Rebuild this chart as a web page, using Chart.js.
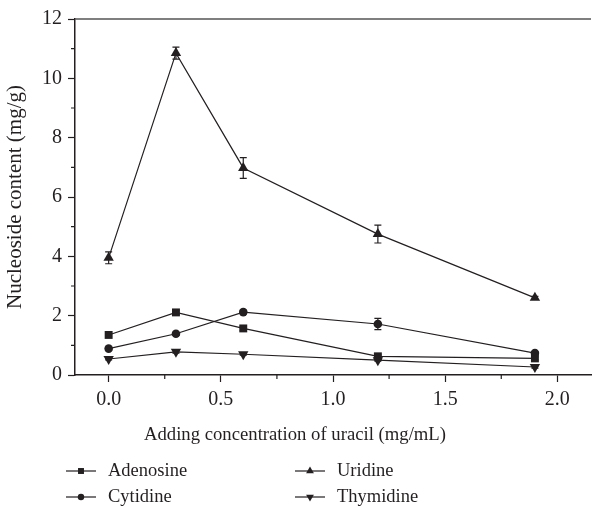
<!DOCTYPE html>
<html lang="en">
<head>
<meta charset="UTF-8">
<title>Nucleoside content vs. uracil</title>
<script src="https://cdn.jsdelivr.net/npm/chart.js"></script>
<style>
  html, body { margin: 0; padding: 0; background: #fff; }
  #wrap { width: 597px; height: 508px; }
</style>
</head>
<body>
<div id="wrap"><canvas id="chart"></canvas></div>
<script>
// data
const concentrations = [0, 0.3, 0.6, 1.2, 1.9];
const adenosine = [1.35, 2.11, 1.57, 0.63, 0.56];
const uridine = [3.95, 10.85, 6.98, 4.75, 2.60];
const cytidine = [0.89, 1.39, 2.12, 1.72, 0.74];
const thymidine = [0.54, 0.78, 0.70, 0.50, 0.27];
const adenosineErr = [0.06, 0.07, 0.07, 0.05, 0.05];
const uridineErr = [0.20, 0.20, 0.35, 0.30, 0.05];
const cytidineErr = [0.05, 0.05, 0.07, 0.19, 0.05];
const thymidineErr = [0.03, 0.04, 0.03, 0.03, 0.04];
const xTicks = [0, 0.5, 1.0, 1.5, 2.0];
const xMinor = [0.25, 0.75, 1.25, 1.75];
const yTicks = [0, 2, 4, 6, 8, 10, 12];
const yMinor = [1, 3, 5, 7, 9, 11];

const INK = '#231f20';
const FAMILY = '"Liberation Serif", "Times New Roman", serif';

const series = [
  { label: 'Adenosine', values: adenosine, errs: adenosineErr, style: 'rect', rot: 0, r: 5.6 },
  { label: 'Uridine', values: uridine, errs: uridineErr, style: 'triangle', rot: 0, r: 6 },
  { label: 'Cytidine', values: cytidine, errs: cytidineErr, style: 'circle', rot: 0, r: 4.3 },
  { label: 'Thymidine', values: thymidine, errs: thymidineErr, style: 'triangle', rot: 180, r: 6 }
];

// error bars, top frame line, minor ticks, x title and legend
const extras = {
  id: 'extras',
  beforeDatasetsDraw(chart) {
    const { ctx, scales: { x, y } } = chart;
    ctx.save();
    ctx.strokeStyle = INK;
    ctx.lineWidth = 1.2;
    series.forEach(s => {
      s.values.forEach((v, i) => {
        const px = x.getPixelForValue(concentrations[i]);
        const top = y.getPixelForValue(v + s.errs[i]);
        const bot = y.getPixelForValue(v - s.errs[i]);
        ctx.beginPath();
        ctx.moveTo(px, top); ctx.lineTo(px, bot);
        ctx.moveTo(px - 3.5, top); ctx.lineTo(px + 3.5, top);
        ctx.moveTo(px - 3.5, bot); ctx.lineTo(px + 3.5, bot);
        ctx.stroke();
      });
    });
    ctx.restore();
  },
  afterDraw(chart) {
    const { ctx, chartArea: a, scales: { x, y } } = chart;
    ctx.save();
    ctx.strokeStyle = '#555';
    ctx.lineWidth = 1.5;
    ctx.beginPath();
    ctx.moveTo(a.left, a.top); ctx.lineTo(a.right, a.top);
    ctx.stroke();

    ctx.strokeStyle = INK;
    ctx.lineWidth = 1.2;
    ctx.beginPath();
    yMinor.forEach(v => {
      const py = y.getPixelForValue(v);
      ctx.moveTo(a.left - 4, py); ctx.lineTo(a.left, py);
    });
    xMinor.forEach(v => {
      const px = x.getPixelForValue(v);
      ctx.moveTo(px, a.bottom); ctx.lineTo(px, a.bottom + 4);
    });
    ctx.stroke();

    ctx.fillStyle = INK;
    ctx.font = '18.7px ' + FAMILY;
    ctx.textAlign = 'center';
    ctx.textBaseline = 'middle';
    ctx.fillText('Adding concentration of uracil (mg/mL)', 295, 435);

    // legend, two columns
    const spots = [[66, 471], [295, 471], [66, 497], [295, 497]];
    ctx.font = '18.5px ' + FAMILY;
    ctx.textAlign = 'left';
    series.forEach((s, i) => {
      const [lx, ly] = spots[i];
      ctx.beginPath();
      ctx.moveTo(lx, ly); ctx.lineTo(lx + 30, ly);
      ctx.stroke();
      Chart.helpers.drawPoint(ctx, { pointStyle: s.style, rotation: s.rot, radius: s.r * 0.75 }, lx + 15, ly);
      ctx.fillText(s.label, lx + 42, ly);
    });
    ctx.restore();
  }
};

new Chart(document.getElementById('chart'), {
  type: 'line',
  data: {
    datasets: series.map(s => ({
      label: s.label,
      data: s.values.map((v, i) => ({ x: concentrations[i], y: v })),
      borderColor: INK,
      backgroundColor: INK,
      borderWidth: 1.2,
      pointStyle: s.style,
      rotation: s.rot,
      pointRadius: s.r,
      pointBorderWidth: 0,
      tension: 0
    }))
  },
  options: {
    responsive: true,
    maintainAspectRatio: false,
    animation: false,
    layout: { padding: { top: 19, right: 0, left: 0, bottom: 73 } },
    plugins: { legend: { display: false }, tooltip: { enabled: false } },
    scales: {
      x: {
        type: 'linear',
        min: -0.15,
        max: 2.15,
        afterBuildTicks: s => { s.ticks = xTicks.map(v => ({ value: v })); },
        afterFit: s => { s.height = 60; },
        border: { color: INK, width: 1.5 },
        grid: { drawOnChartArea: false, tickLength: 7, tickColor: INK, tickWidth: 1.2 },
        ticks: { color: INK, font: { family: FAMILY, size: 20 }, padding: 6, maxRotation: 0, callback: v => Number(v).toFixed(1) }
      },
      y: {
        min: 0,
        max: 12,
        afterBuildTicks: s => { s.ticks = yTicks.map(v => ({ value: v })); },
        afterFit: s => { s.width = 75; },
        border: { color: INK, width: 1.5 },
        grid: { drawOnChartArea: false, tickLength: 7, tickColor: INK, tickWidth: 1.2 },
        ticks: { color: INK, font: { family: FAMILY, size: 20 }, padding: 6 },
        title: { display: true, text: 'Nucleoside content (mg/g)', color: INK, font: { family: FAMILY, size: 21 }, padding: { top: 3, bottom: 0 } }
      }
    }
  },
  plugins: [extras]
});
</script>
</body>
</html>
